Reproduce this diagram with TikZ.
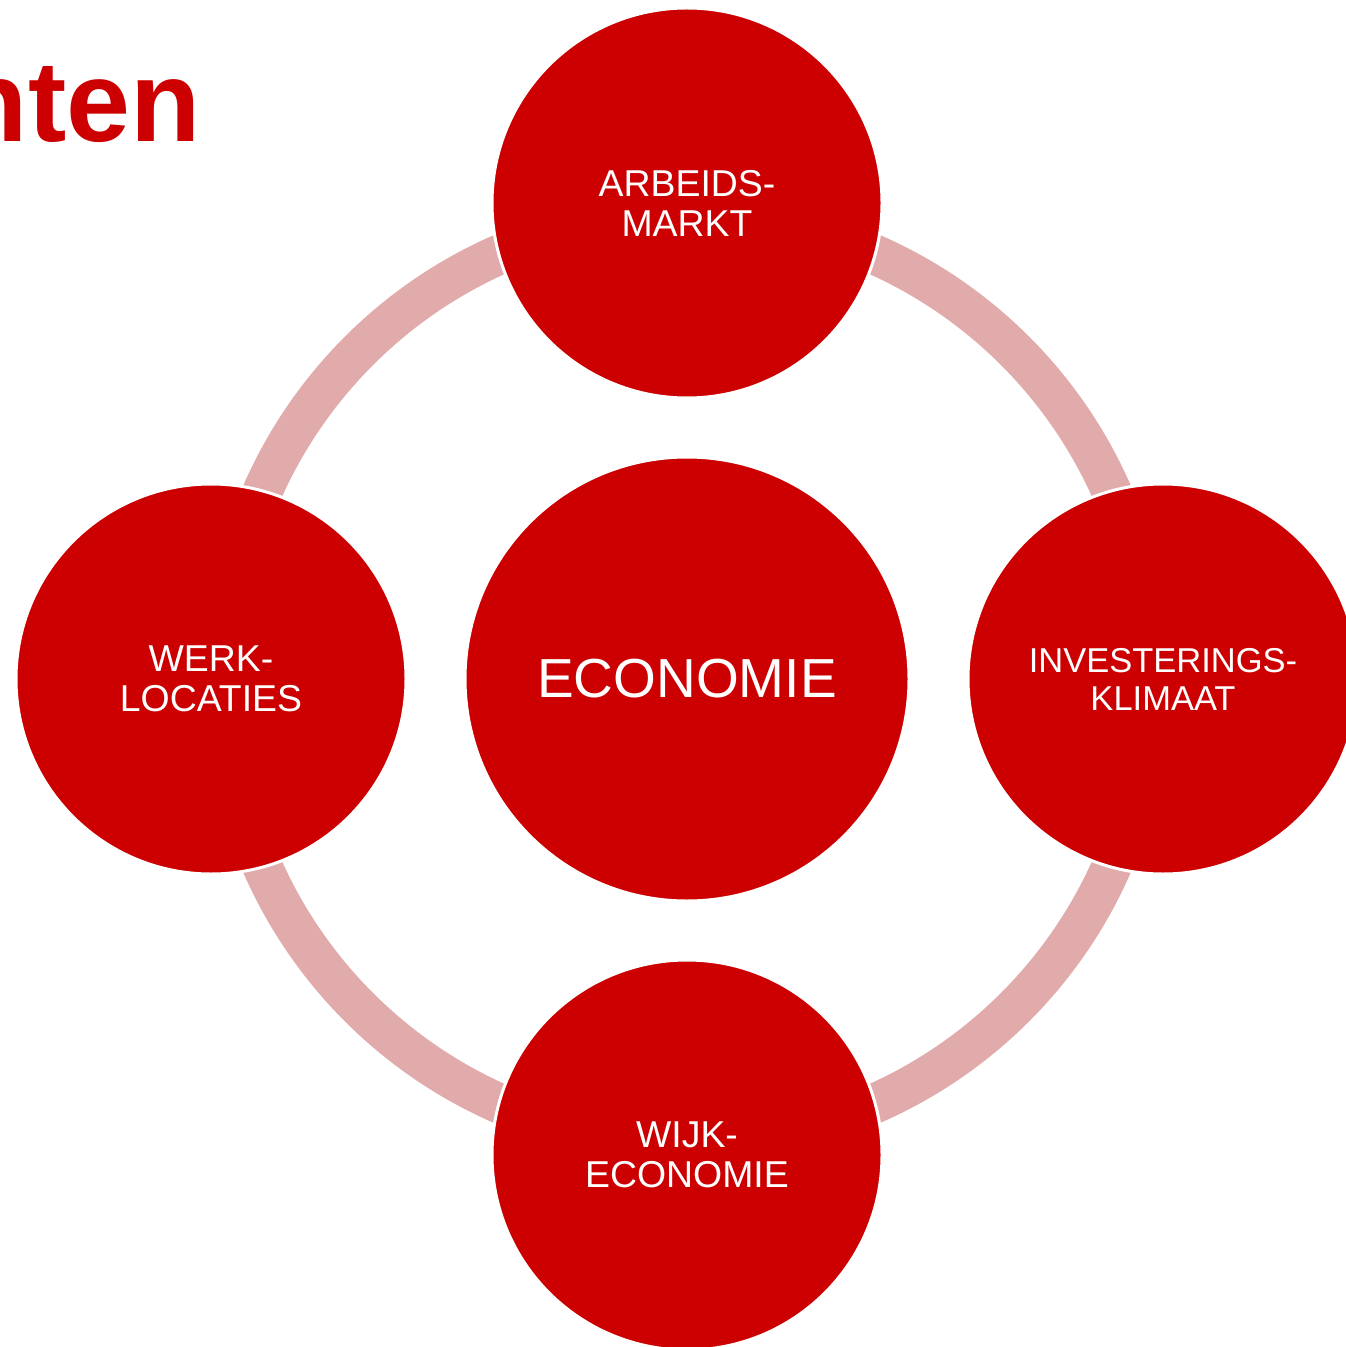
\documentclass[tikz,border=0pt]{standalone}
\usepackage{fontspec}
\setmainfont{Liberation Sans}
\definecolor{mainred}{HTML}{CC0000}
\definecolor{ringpink}{HTML}{E2ABAB}
\begin{document}
\begin{tikzpicture}[x=0.5pt,y=-0.5pt,
  sat/.style={circle, fill=mainred, draw=white, line width=1.5pt, minimum size=195pt, inner sep=0pt,
    text=white, align=center, font=\fontsize{18.7}{20}\selectfont},
  smallsat/.style={sat, font=\fontsize{17.25}{19}\selectfont},
  hub/.style={circle, fill=mainred, draw=white, line width=1.5pt, minimum size=222pt, inner sep=0pt,
    text=white, align=center, font=\fontsize{27.5}{30}\selectfont},
  titletext/.style={text=mainred, inner sep=0pt, font=\fontsize{57.5}{60}\selectfont\bfseries}]
\useasboundingbox (0,0) rectangle (1345,1347);
\fill[white] (0,0) rectangle (1345,1347);
\coordinate (c) at (687,679);
\draw[ringpink, line width=20pt] (c) circle [radius=232pt];
\node[hub] (eco) at (c) {ECONOMIE};
\node[sat] (top) at (687,203) {ARBEIDS-\\MARKT};
\node[sat] (left) at (211,679) {WERK-\\LOCATIES};
\node[smallsat] (right) at (1163,679) {INVESTERINGS-\\KLIMAAT};
\node[sat] (bottom) at (687,1155) {WIJK-\\ECONOMIE};
\node[titletext, anchor=base east] (title) at (201,142) {nten};
\end{tikzpicture}
\end{document}
